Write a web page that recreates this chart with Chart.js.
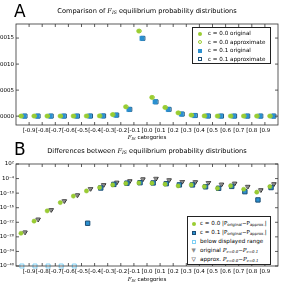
<!DOCTYPE html>
<html>
<head>
<meta charset="utf-8">
<script src="https://cdn.jsdelivr.net/npm/chart.js@4.4.1/dist/chart.umd.min.js"></script>
<style>
  body { margin: 0; width: 299px; height: 284px; overflow: hidden; background: #fff; position: relative; font-family: "DejaVu Sans", sans-serif; color: #000; }
  .box { position: absolute; left: -20px; width: 319px; }
  .letter { position: absolute; left: 14px; font-size: 17px; line-height: 17px; }
  .title { position: absolute; left: 0; width: 294px; text-align: center; font-size: 6.6px; line-height: 8px; white-space: nowrap; }
  .xtitle { position: absolute; left: 0; width: 294px; text-align: center; font-size: 5.5px; line-height: 7px; white-space: nowrap; }
  i { font-family: "DejaVu Serif", serif; }
  sub { font-size: 70%; vertical-align: -1px; line-height: 0; }
  .legend { position: absolute; border: 1px solid #222; background: #fff; font-size: 5.6px; }
  .row { position: absolute; left: 0; white-space: nowrap; line-height: 7px; }
  .mk { position: absolute; top: 1.5px; box-sizing: border-box; }
  .txt { position: absolute; }
</style>
</head>
<body>
<div class="box" style="top:0;height:143px"><canvas id="chartA"></canvas></div>
<div class="box" style="top:143px;height:141px"><canvas id="chartB"></canvas></div>

<div class="letter" style="top:3px">A</div>
<div class="title" style="top:7px">Comparison of <i>F<sub>IS</sub></i> equilibrium probability distributions</div>
<div class="xtitle" style="top:134px"><i>F<sub>IS</sub></i> categories</div>

<div class="letter" style="top:141px">B</div>
<div class="title" style="top:147px">Differences between <i>F<sub>IS</sub></i> equilibrium probability distributions</div>
<div class="xtitle" style="top:276px"><i>F<sub>IS</sub></i> categories</div>

<div class="legend" style="left:192px;top:27px;width:77px;height:35px">
  <div class="row" style="top:2px"><span class="mk" style="left:5px;width:4px;height:4px;border-radius:50%;background:#9acd32"></span><span class="txt" style="left:15px">c = 0.0 original</span></div>
  <div class="row" style="top:10.5px"><span class="mk" style="left:5px;width:4px;height:4px;border-radius:50%;border:1px solid #9acd32"></span><span class="txt" style="left:15px">c = 0.0 approximate</span></div>
  <div class="row" style="top:19px"><span class="mk" style="left:5px;width:4px;height:4px;background:#2b90d0"></span><span class="txt" style="left:15px">c = 0.1 original</span></div>
  <div class="row" style="top:27.5px"><span class="mk" style="left:5px;width:4px;height:4px;border:1px solid #1d4e74"></span><span class="txt" style="left:15px">c = 0.1 approximate</span></div>
</div>

<div class="legend" style="left:187px;top:216px;width:82px;height:47px">
  <div class="row" style="top:3px"><span class="mk" style="left:4px;width:4px;height:4px;border-radius:50%;background:#9acd32"></span><span class="txt" style="left:12px">c = 0.0 |P<sub>original</sub>−P<sub>approx.</sub>|</span></div>
  <div class="row" style="top:12px"><span class="mk" style="left:4px;width:4px;height:4px;background:#2b90d0;border:1px solid #1d4e74"></span><span class="txt" style="left:12px">c = 0.1 |P<sub>original</sub>−P<sub>approx.</sub>|</span></div>
  <div class="row" style="top:21px"><span class="mk" style="left:4px;width:4px;height:4px;border:1px solid #7fd0f5"></span><span class="txt" style="left:12px">below displayed range</span></div>
  <div class="row" style="top:30px"><span class="txt" style="left:3.5px;top:-0.5px;color:#8c8c8c">▼</span><span class="txt" style="left:12px">original <i>P<sub>c=0.0</sub>−P<sub>c=0.1</sub></i></span></div>
  <div class="row" style="top:39px"><span class="txt" style="left:3.5px;top:-0.5px">▽</span><span class="txt" style="left:12px">approx. <i>P<sub>c=0.0</sub>−P<sub>c=0.1</sub></i></span></div>
</div>

<script>
Chart.defaults.font.family = "DejaVu Sans";
Chart.defaults.color = "#000";

// 20 F_IS bins, tick labels sit on the bin boundaries
const xLabels = ['[-0.9', '[-0.8', '[-0.7', '[-0.6', '[-0.5', '[-0.4', '[-0.3', '[-0.2', '[-0.1', '[0.0',
                 '[0.1', '[0.2', '[0.3', '[0.4', '[0.5', '[0.6', '[0.7', '[0.8', '[0.9'];
const nBins = 20;

// panel A: equilibrium probabilities
const aOrig00   = [0.000002, 0.000002, 0.000002, 0.000002, 0.000002, 0.000003, 0.000005, 0.00003, 0.00018, 0.001635,
                   0.00036, 0.000167, 0.000063, 0.00002, 0.000004, 0.000002, 0.000002, 0.000002, 0.000002, 0.000002];
const aApprox00 = [0.000002, 0.000002, 0.000002, 0.000002, 0.000002, 0.000003, 0.000005, 0.00003, 0.00018, 0.001635,
                   0.00036, 0.000167, 0.000063, 0.00002, 0.000004, 0.000002, 0.000002, 0.000002, 0.000002, 0.000002];
const aOrig01   = [0.000001, 0.000001, 0.000001, 0.000001, 0.000001, 0.000002, 0.000004, 0.00002, 0.00013, 0.001494,
                   0.000275, 0.00013, 0.00004, 0.000012, 0.000003, 0.000001, 0.000001, 0.000001, 0.000001, 0.000001];
const aApprox01 = [0.000001, 0.000001, 0.000001, 0.000001, 0.000001, 0.000002, 0.000004, 0.00002, 0.00013, 0.001494,
                   0.000275, 0.00013, 0.00004, 0.000012, 0.000003, 0.000001, 0.000001, 0.000001, 0.000001, 0.000001];
const aTicks = [0, 0.0005, 0.001, 0.0015];

// panel B: absolute differences (null = below displayed range)
const bDiff00   = [3e-27, 3e-22, 5e-18, 1.3e-14, 6e-12, 8e-10, 2e-8, 2.5e-7, 1e-6, 1.6e-6,
                   1.3e-6, 5e-7, 1e-7, 2.5e-7, 5e-8, 1e-8, 1e-7, 4e-9, 2.5e-10, 5e-8];
const bDiff01   = [null, null, null, null, null, 4e-23, 1.3e-8, 4e-7, 1.3e-6, 2e-6,
                   1.6e-6, 8e-7, 2.5e-7, 2.5e-7, 4e-8, 1e-8, 6e-8, 4e-10, 1.6e-13, 2e-8];
const bOrigC    = [8e-27, 1.6e-21, 1.3e-17, 6e-14, 1.6e-11, 6e-9, 2.5e-7, 2.5e-6, 1e-5, 6e-5,
                   1e-4, 2.5e-5, 5e-6, 4e-6, 2e-6, 4e-7, 1e-6, 5e-8, 2e-9, 6e-7];
const bApproxC  = [8e-27, 1.6e-21, 1.3e-17, 6e-14, 1.6e-11, 6e-9, 2.5e-7, 2.5e-6, 1e-5, 6e-5,
                   1e-4, 2.5e-5, 5e-6, 4e-6, 2e-6, 4e-7, 1e-6, 5e-8, 2e-9, 6e-7];
const bTickExp = [2, -1, -4, -7, -10, -13, -16, -19, -22, -25, -28, -31, -34, -37, -40];

const bMin = 1e-40, bMax = 1e2;

function pts(values, shift) {
    return values.map((v, i) => v === null ? null : { x: i + shift, y: v }).filter(p => p);
}

const supMap = { '-': '⁻', '0': '⁰', '1': '¹', '2': '²', '3': '³', '4': '⁴', '5': '⁵', '6': '⁶', '7': '⁷', '8': '⁸', '9': '⁹' };
function sup(n) {
    return String(n).split('').map(c => supMap[c]).join('');
}

// box around the plot with inward tick marks
const frame = {
    id: 'frame',
    afterDatasetsDraw(chart) {
        const { ctx, chartArea: a, scales } = chart;
        ctx.save();
        ctx.strokeStyle = '#333';
        ctx.lineWidth = 0.8;
        ctx.strokeRect(a.left, a.top, a.right - a.left, a.bottom - a.top);
        ctx.beginPath();
        scales.x.ticks.forEach(t => {
            const px = scales.x.getPixelForValue(t.value);
            ctx.moveTo(px, a.top); ctx.lineTo(px, a.top + 3);
            ctx.moveTo(px, a.bottom); ctx.lineTo(px, a.bottom - 3);
        });
        scales.y.ticks.forEach(t => {
            const py = scales.y.getPixelForValue(t.value);
            ctx.moveTo(a.left, py); ctx.lineTo(a.left + 3, py);
            ctx.moveTo(a.right, py); ctx.lineTo(a.right - 3, py);
        });
        ctx.stroke();
        ctx.restore();
    }
};

const xScale = {
    type: 'linear',
    min: -0.5,
    max: nBins - 0.5,
    afterBuildTicks: s => { s.ticks = xLabels.map((_, i) => ({ value: i + 0.5 })); },
    afterFit: s => { s.height = 18; },
    grid: { display: false, drawTicks: false },
    border: { display: false },
    ticks: {
        autoSkip: false,
        maxRotation: 0,
        padding: 2,
        font: { size: 5.5 },
        callback: (v, i) => xLabels[i]
    }
};

new Chart(document.getElementById('chartA'), {
    type: 'scatter',
    data: {
        datasets: [
            { data: pts(aOrig00, -0.14), pointStyle: 'circle', pointRadius: 2.1, backgroundColor: '#9acd32', borderColor: '#9acd32', borderWidth: 0.5 },
            { data: pts(aApprox00, -0.07), pointStyle: 'circle', pointRadius: 1.8, backgroundColor: 'rgba(255,255,255,0)', borderColor: '#9acd32', borderWidth: 1 },
            { data: pts(aOrig01, 0.12), pointStyle: 'rect', pointRadius: 3.1, backgroundColor: '#2b90d0', borderColor: '#2b90d0', borderWidth: 0.5 },
            { data: pts(aApprox01, 0.19), pointStyle: 'rect', pointRadius: 2.8, backgroundColor: 'rgba(255,255,255,0)', borderColor: '#1d4e74', borderWidth: 1 }
        ]
    },
    options: {
        responsive: true,
        maintainAspectRatio: false,
        animation: false,
        events: [],
        layout: { padding: { top: 24, right: 21, left: 0, bottom: 0 } },
        plugins: { legend: { display: false }, tooltip: { enabled: false } },
        elements: { point: { hoverRadius: 0 } },
        datasets: { scatter: { clip: false } },
        scales: {
            x: xScale,
            y: {
                type: 'linear',
                min: -0.00017,
                max: 0.00177,
                afterBuildTicks: s => { s.ticks = aTicks.map(v => ({ value: v })); },
                afterFit: s => { s.width = 36; },
                grid: { display: false, drawTicks: false },
                border: { display: false },
                ticks: { padding: 2, font: { size: 5.5 }, callback: v => v.toFixed(4) }
            }
        }
    },
    plugins: [frame]
});

new Chart(document.getElementById('chartB'), {
    type: 'scatter',
    data: {
        datasets: [
            { data: pts(bDiff00, -0.12), pointStyle: 'circle', pointRadius: 2.1, backgroundColor: '#9acd32', borderColor: '#8cbf28', borderWidth: 0.5 },
            { data: pts(bDiff01, -0.03), pointStyle: 'rect', pointRadius: 3.1, backgroundColor: '#2b90d0', borderColor: '#1d4e74', borderWidth: 1 },
            { data: bDiff01.map((v, i) => v === null ? { x: i - 0.05, y: bMin } : null).filter(p => p),
              pointStyle: 'rect', pointRadius: 2.8, backgroundColor: '#fff', borderColor: '#7fd0f5', borderWidth: 1 },
            { data: pts(bOrigC, 0.15), pointStyle: 'triangle', rotation: 180, pointRadius: 2.4, backgroundColor: '#8c8c8c', borderColor: '#666', borderWidth: 0.5 },
            { data: pts(bApproxC, 0.2), pointStyle: 'triangle', rotation: 180, pointRadius: 2.4, backgroundColor: 'rgba(255,255,255,0)', borderColor: '#000', borderWidth: 0.9 }
        ]
    },
    options: {
        responsive: true,
        maintainAspectRatio: false,
        animation: false,
        events: [],
        layout: { padding: { top: 21, right: 21, left: 0, bottom: 0 } },
        plugins: { legend: { display: false }, tooltip: { enabled: false } },
        elements: { point: { hoverRadius: 0 } },
        datasets: { scatter: { clip: false } },
        scales: {
            x: xScale,
            y: {
                type: 'logarithmic',
                min: bMin,
                max: bMax,
                afterBuildTicks: s => { s.ticks = bTickExp.map(e => ({ value: Math.pow(10, e) })); },
                afterFit: s => { s.width = 36; },
                grid: { display: false, drawTicks: false },
                border: { display: false },
                ticks: { padding: 2, font: { size: 5.5 }, callback: v => '10' + sup(Math.round(Math.log10(v))) }
            }
        }
    },
    plugins: [frame]
});
</script>
</body>
</html>
